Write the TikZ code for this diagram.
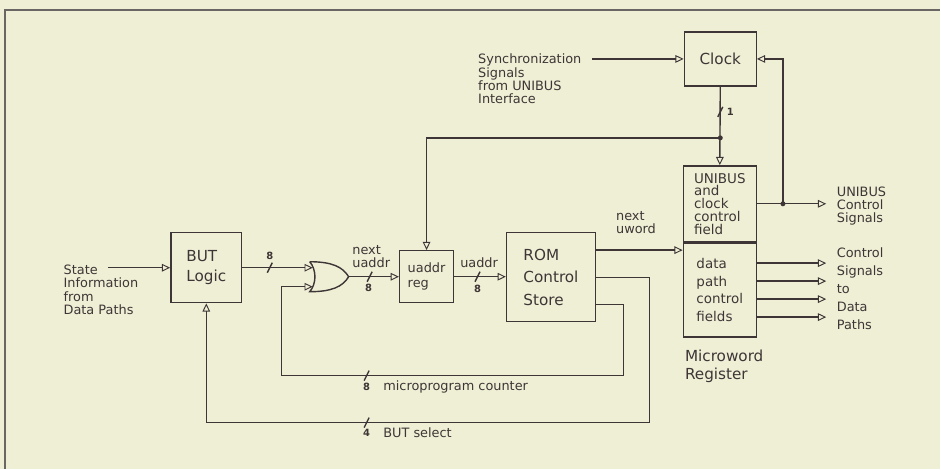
\documentclass[tikz,border=0pt]{standalone}
\usepackage{fontspec}
\setmainfont{DejaVu Sans}
\usetikzlibrary{arrows.meta,calc}
\definecolor{paper}{RGB}{239,239,213}
\definecolor{ink}{RGB}{62,54,54}
\definecolor{rule}{RGB}{105,102,100}
\begin{document}
\begin{tikzpicture}[x=0.03cm, y=-0.03cm, color=ink, line width=1.2pt,
    box/.style={draw, inner sep=0pt, align=left},
    arr/.style={-{Triangle[open,length=7pt,width=6.5pt,line width=0.8pt]}},
    lbl/.style={inner sep=0pt, align=left, font=\fontsize{11}{11.4}\selectfont},
    wbit/.style={inner sep=0pt, font=\fontsize{8.5}{9}\selectfont\bfseries}]
    \fill[paper] (0,0) rectangle (941,469);
    \draw[rule, line width=1.6pt] (5,469) -- (5,10) -- (941,10);
    % blocks
    \node[box, minimum width=2.13cm, minimum height=2.1cm, font=\fontsize{13}{17}\selectfont] (but) at (206.5,268) {BUT\\Logic};
    \node[box, minimum width=1.62cm, minimum height=1.56cm, font=\fontsize{11}{12.8}\selectfont] (ureg) at (427,277) {uaddr\\reg};
    \node[box, minimum width=2.67cm, minimum height=2.67cm, font=\fontsize{13}{19.2}\selectfont] (rom) at (551.5,277.5) {ROM\\Control\\Store};
    \node[box, minimum width=2.16cm, minimum height=1.62cm, font=\fontsize{13}{16}\selectfont] (clk) at (721,59) {Clock};
    \node[box, minimum width=2.19cm, minimum height=2.28cm, font=\fontsize{11.5}{10.9}\selectfont] (mwrtop) at (720.5,204) {UNIBUS\\and\\clock\\control\\field};
    \node[box, minimum width=2.19cm, minimum height=2.82cm, anchor=north, font=\fontsize{11.5}{15.1}\selectfont] (mwrbot) at (mwrtop.south) {data\\path\\control\\fields};
    % or gate
    \coordinate (orin1) at (313,268);
    \coordinate (orin2) at (313,287);
    \coordinate (orout) at (349,277);
    \draw (310,262) .. controls (317,270) and (317,284) .. (310,292)
        .. controls (332,292) and (343,287) .. (orout)
        .. controls (343,267) and (332,262) .. (310,262);
    % labels
    \node[lbl, anchor=west] (state) at (63,290) {State\\Information\\from\\Data Paths};
    \node[lbl, anchor=west] (sync) at (478,79) {Synchronization\\Signals\\from UNIBUS\\Interface};
    \node[lbl, anchor=west, font=\fontsize{11}{11.2}\selectfont] (nua) at (352,257) {next\\uaddr};
    \node[lbl, anchor=west] (ua) at (460,263) {uaddr};
    \node[lbl, anchor=west, font=\fontsize{11}{10.7}\selectfont] (nuw) at (616,223) {next\\uword};
    \node[lbl, anchor=west, font=\fontsize{13}{15.4}\selectfont] (mwrlbl) at (685,367) {Microword\\Register};
    \node[lbl, anchor=west, inner xsep=0.3cm, font=\fontsize{11}{11.1}\selectfont] (unisig) at (827,206) {UNIBUS\\Control\\Signals};
    \node[lbl, anchor=west, inner xsep=0.3cm, font=\fontsize{11}{15.4}\selectfont] (ctlsig) at (827,289) {Control\\Signals\\to\\Data\\Paths};
    \node[lbl, anchor=west] (mpc) at (383,387) {microprogram counter};
    \node[lbl, anchor=west] (bsel) at (383,433) {BUT select};
    \foreach \wx/\wy/\wn [count=\k] in {270/256/8, 369/288/8, 478/289/8, 367/387/8, 367/433/4, 731/112/1}
        \node[wbit] (w\k) at (\wx,\wy) {\wn};
    % connectors
    \coordinate (statein) at (108,268);
    \coordinate (syncin) at (593,59);
    \coordinate (clkdot) at (721,138);
    \coordinate (unidot) at ($(mwrtop.east)+(26,0)$);
    \coordinate (selcorner) at (650,423);
    \coordinate (cntcorner) at (624,376);
    \coordinate (cntleft) at (282,287);
    \draw[arr] (statein) -- (but.west);
    \draw[arr] (but.east) -- (orin1);
    \draw[arr] (orout) -- (ureg.west);
    \draw[arr] (ureg.east) -- (rom.west |- ureg.east);
    \draw[arr] ($(rom.north east)!0.2!(rom.south east)$) coordinate (romnext) -- (romnext -| mwrbot.west);
    \draw[arr] (rom.east) -| (selcorner) -| (but.south);
    \draw[arr] ($(rom.north east)!0.8!(rom.south east)$) -| (cntcorner) -| (cntleft) -- (orin2);
    \draw[arr] (syncin) -- (clk.west);
    \draw[arr] (clk.south) -- (mwrtop.north);
    \draw[arr] (clkdot) -| (ureg.north);
    \draw[arr] (mwrtop.east) -- (mwrtop.east -| unisig.west);
    \draw[arr] (unidot) |- (clk.east);
    \fill (clkdot) circle (2.5);
    \fill (unidot) circle (2.5);
    \foreach \dy in {-27,-9,9,27}
        \draw[arr] ($(mwrbot.east)+(0,\dy)$) coordinate (o) -- (o -| ctlsig.west);
    % bus width slashes
    \foreach \sx/\sy in {270/268, 370/277, 478/277, 367/376, 367/423, 721/112}
        \draw (\sx,\sy) ++(-2.5,5) -- ++(5,-10);
\end{tikzpicture}
\end{document}
